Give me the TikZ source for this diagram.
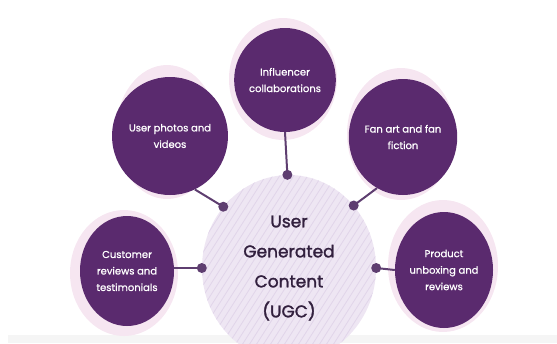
\documentclass[tikz,border=0pt]{standalone}
\usepackage{fontspec}
\setmainfont{Poppins}[BoldFont={Poppins}, BoldFeatures={FakeBold=1.6}]
\newfontfamily\satfont{Poppins}[FakeBold=0.8]
\usetikzlibrary{shapes.geometric}
\definecolor{satcol}{RGB}{90,42,110}
\definecolor{halocol}{RGB}{246,230,241}
\definecolor{corecol}{RGB}{238,230,243}
\definecolor{hatchcol}{RGB}{225,213,234}
\definecolor{linkcol}{RGB}{94,62,112}
\definecolor{coretext}{RGB}{50,32,62}
\definecolor{bandcol}{RGB}{245,245,245}
\begin{document}
\begin{tikzpicture}[x=1pt,y=-1pt,
  satnode/.style={ellipse, fill=satcol, inner sep=0pt, text=white, align=center,
    font=\satfont\fontsize{10}{16.5}\selectfont},
  halo/.style={fill=halocol},
  conn/.style={draw=linkcol, line width=2pt},
  dotmark/.style={fill=linkcol}]
\useasboundingbox (0,0) rectangle (557,343);
\clip (0,0) rectangle (557,343);
\fill[bandcol] (8,335) rectangle (557,343);
% halos
\fill[halo] (283,79) ellipse [x radius=54pt, y radius=61pt];
\fill[halo] (167,132) ellipse [x radius=51pt, y radius=67pt];
\fill[halo] (401,134) ellipse [x radius=54pt, y radius=66pt];
\fill[halo] (124,273) ellipse [x radius=54pt, y radius=63pt];
\fill[halo] (443,266) ellipse [x radius=55pt, y radius=66pt];
% central ellipse with hatching
\fill[corecol] (289,268) ellipse [x radius=87pt, y radius=93pt];
\begin{scope}
  \clip (289,268) ellipse [x radius=87pt, y radius=93pt];
  \foreach \k in {-320,-313,...,320}
    \draw[hatchcol, line width=0.8pt] (289+\k-70,268+110) -- (289+\k+70,268-110);
\end{scope}
\node[ellipse, minimum width=174pt, minimum height=186pt, inner sep=0pt,
  text=coretext, align=center, font=\bfseries\fontsize{17}{30}\selectfont] (ugc) at (289,268)
  {User\\Generated\\Content\\(UGC)};
% satellites
\node[satnode, minimum width=96pt, minimum height=104pt] (inf) at (285,80)
  {Influencer\\collaborations};
\node[satnode, minimum width=90pt, minimum height=118pt] (photos) at (170,136)
  {User photos and\\videos};
\node[satnode, minimum width=96pt, minimum height=116pt] (fan) at (403,137)
  {Fan art and fan\\fiction};
\node[satnode, minimum width=94pt, minimum height=110pt] (cust) at (127,271)
  {Customer\\reviews and\\testimonials};
\node[satnode, minimum width=98pt, minimum height=116pt] (prod) at (444,270)
  {Product\\unboxing and\\reviews};
% connectors
\draw[conn] (inf.south) -- (ugc.91);
\fill[dotmark] (ugc.91) circle (5pt);
\draw[conn] (photos.-65) -- (ugc.137);
\fill[dotmark] (ugc.137) circle (5pt);
\draw[conn] (fan.-117) -- (ugc.44);
\fill[dotmark] (ugc.44) circle (5pt);
\draw[conn] (ugc.180 -| cust.east) -- (ugc.180);
\fill[dotmark] (ugc.180) circle (5pt);
\draw[conn] (prod.west) -- (ugc.0);
\fill[dotmark] (ugc.0) circle (5pt);
\end{tikzpicture}
\end{document}
